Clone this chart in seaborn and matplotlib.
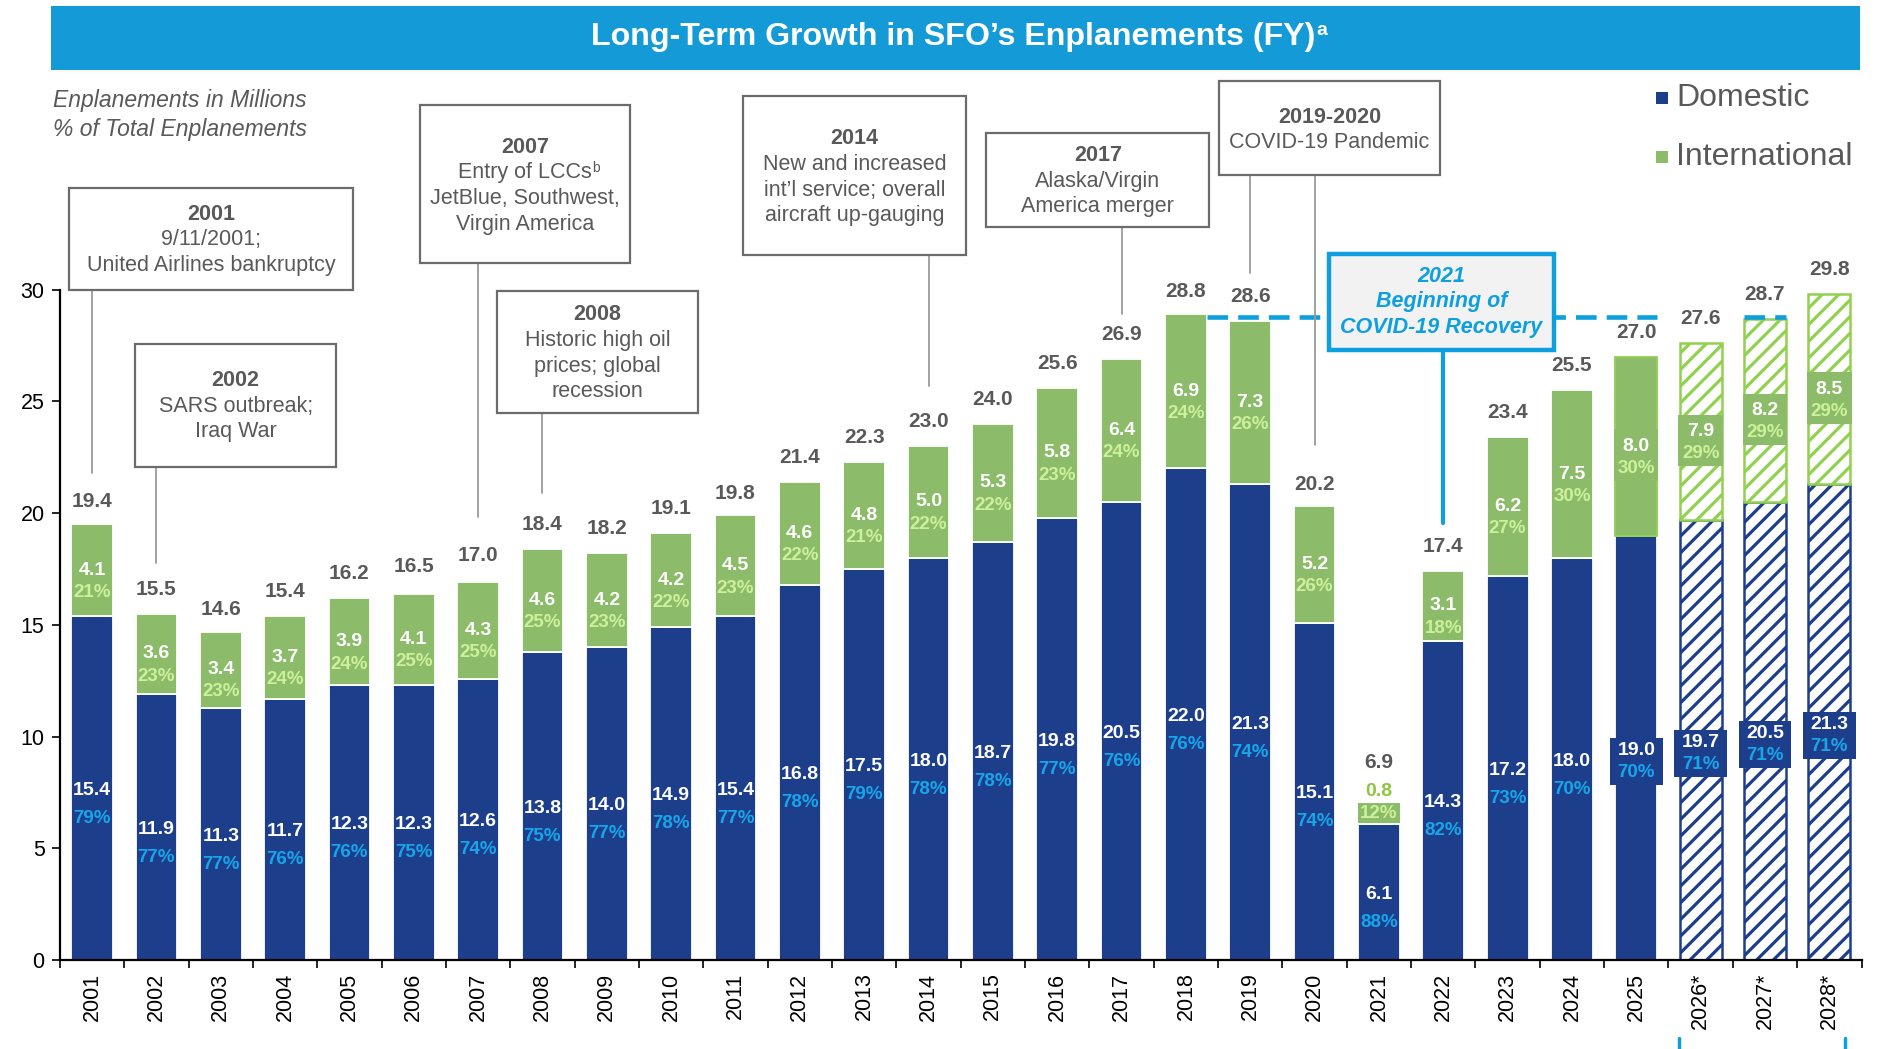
import matplotlib
matplotlib.use("Agg")
import matplotlib.pyplot as plt
import numpy as np
import pandas as pd
import seaborn as sns
from matplotlib.patches import Rectangle
from matplotlib.lines import Line2D
from matplotlib.text import Annotation

# ---------------- data ----------------
years = ["2001", "2002", "2003", "2004", "2005", "2006", "2007", "2008", "2009",
         "2010", "2011", "2012", "2013", "2014", "2015", "2016", "2017", "2018",
         "2019", "2020", "2021", "2022", "2023", "2024", "2025",
         "2026*", "2027*", "2028*"]
domestic = [15.4, 11.9, 11.3, 11.7, 12.3, 12.3, 12.6, 13.8, 14.0, 14.9, 15.4,
            16.8, 17.5, 18.0, 18.7, 19.8, 20.5, 22.0, 21.3, 15.1, 6.1, 14.3,
            17.2, 18.0, 19.0, 19.7, 20.5, 21.3]
international = [4.1, 3.6, 3.4, 3.7, 3.9, 4.1, 4.3, 4.6, 4.2, 4.2, 4.5, 4.6,
                 4.8, 5.0, 5.3, 5.8, 6.4, 6.9, 7.3, 5.2, 0.8, 3.1, 6.2, 7.5,
                 8.0, 7.9, 8.2, 8.5]
totals = [19.4, 15.5, 14.6, 15.4, 16.2, 16.5, 17.0, 18.4, 18.2, 19.1, 19.8,
          21.4, 22.3, 23.0, 24.0, 25.6, 26.9, 28.8, 28.6, 20.2, 6.9, 17.4,
          23.4, 25.5, 27.0, 27.6, 28.7, 29.8]
dom_pct = [79, 77, 77, 76, 76, 75, 74, 75, 77, 78, 77, 78, 79, 78, 78, 77, 76,
           76, 74, 74, 88, 82, 73, 70, 70, 71, 71, 71]
intl_pct = [21, 23, 23, 24, 24, 25, 25, 25, 23, 22, 23, 22, 21, 22, 22, 23, 24,
            24, 26, 26, 12, 18, 27, 30, 30, 29, 29, 29]
projected = [y.endswith("*") for y in years]
series_names = ["Domestic", "International"]

# ---------------- style ----------------
sns.set_theme(style="white")
plt.rcParams["font.family"] = ["Liberation Sans", "DejaVu Sans"]
plt.rcParams["hatch.linewidth"] = 2.3

NAVY = "#1D3E8A"
GREEN = "#8CBB69"
HGREEN = "#92D050"
BLUE = "#0E9FDE"
BANNER = "#149BD7"
DOM_PCT = "#17A6EA"
INT_PCT = "#CDF09B"
GRAY = "#595959"
BOXEDGE = "#6B6B6B"
CONN = "#9A9A9A"

W, H = 1877, 1049
fig = plt.figure(figsize=(W / 100, H / 100), dpi=100)
ax_l, ax_r, ax_b, ax_t = 59.9, 1861.5, 960.1, 289.7
ax = fig.add_axes([ax_l / W, 1 - ax_b / H, (ax_r - ax_l) / W, (ax_b - ax_t) / H])

df = pd.DataFrame({"year": years, "Domestic": domestic,
                   "International": international})
sns.barplot(data=df, x="year", y="Domestic", color=NAVY, saturation=1,
            width=0.65, errorbar=None, edgecolor="white", linewidth=1.3,
            ax=ax, zorder=2)
sns.barplot(data=df, x="year", y="International", color=GREEN, saturation=1,
            width=0.65, errorbar=None, edgecolor="white", linewidth=1.3,
            ax=ax, zorder=2)
dom_bars = ax.containers[0]
int_bars = ax.containers[1]
for i, b in enumerate(int_bars):
    b.set_y(domestic[i])
for i in range(len(years)):
    if projected[i]:
        db, ib = dom_bars[i], int_bars[i]
        db.set_facecolor("white"); db.set_hatch("//"); db.set_edgecolor(NAVY)
        db.set_linewidth(1.8)
        ib.set_facecolor("white"); ib.set_hatch("//"); ib.set_edgecolor(HGREEN)
        ib.set_linewidth(1.8)
int_bars[24].set_edgecolor(HGREEN)

ax.set_xlim(-0.5, len(years) - 0.5)
ax.set_ylim(0, 30)
ax.set_xlabel("")
ax.set_ylabel("")
ax.set_yticks([0, 5, 10, 15, 20, 25, 30])
ax.tick_params(axis="y", labelsize=15.5, length=6, width=1.2, color="black",
               labelcolor="black", pad=5, left=True)
ax.set_xticks(np.arange(len(years)))
ax.set_xticklabels(years, rotation=90)
ax.set_xticks(np.arange(len(years) + 1) - 0.5, minor=True)
ax.tick_params(axis="x", which="major", length=0, labelsize=15.5,
               labelcolor="black", pad=9)
ax.tick_params(axis="x", which="minor", length=6, width=1.2, color="black",
               bottom=True)
for s in ["top", "right"]:
    ax.spines[s].set_visible(False)
for s in ["left", "bottom"]:
    ax.spines[s].set_color("black")
    ax.spines[s].set_linewidth(1.6)
    ax.spines[s].set_zorder(3)

# ---------------- value labels ----------------
VAL_FS, PCT_FS, TOT_FS = 14, 13.5, 15
for i in range(len(years)):
    d, it = domestic[i], international[i]
    boxed = projected[i] or years[i] == "2025"
    # totals
    ty = totals[i] + 1.1 if years[i] != "2021" else totals[i] + 1.95
    ax.text(i, ty, f"{totals[i]:.1f}", ha="center", va="center",
            fontsize=TOT_FS, fontweight="bold", color=GRAY, zorder=6)
    # domestic
    dy = d / 2 - 0.1
    if boxed:
        ax.add_patch(Rectangle((i - 0.41, dy - 1.55), 0.82, 2.1, facecolor=NAVY,
                               edgecolor="none", zorder=5))
        dp = dy - 1.0
    else:
        dp = dy - 1.25
    ax.text(i, dy, f"{d:.1f}", ha="center", va="center", fontsize=VAL_FS,
            fontweight="bold", color="white", zorder=6)
    ax.text(i, dp, f"{dom_pct[i]}%", ha="center", va="center",
            fontsize=PCT_FS, fontweight="bold", color=DOM_PCT, zorder=6)
    # international
    if years[i] == "2021":
        ax.text(i, totals[i] + 0.65, f"{it:.1f}", ha="center", va="center",
                fontsize=VAL_FS, fontweight="bold", color="#8DC63F", zorder=6)
        ax.add_patch(Rectangle((i - 0.325, d + 0.02), 0.65, 0.9,
                               facecolor=GREEN, edgecolor="none", zorder=5))
        ax.text(i, d + 0.45, f"{intl_pct[i]}%", ha="center", va="center",
                fontsize=PCT_FS, fontweight="bold", color=INT_PCT, zorder=6)
        continue
    iy = d + it / 2
    if boxed:
        ax.add_patch(Rectangle((i - 0.345, iy - 1.55), 0.69, 2.3,
                               facecolor=GREEN, edgecolor="none", zorder=5))
    ax.text(i, iy, f"{it:.1f}", ha="center", va="center", fontsize=VAL_FS,
            fontweight="bold", color="white", zorder=6)
    ax.text(i, iy - 1.0, f"{intl_pct[i]}%", ha="center", va="center",
            fontsize=PCT_FS, fontweight="bold", color=INT_PCT, zorder=6)

# dashed reference line at the 2018 peak
for xa, xb in [(17 + 0.325, 24 + 0.325), (26 - 0.325, 26 + 0.325)]:
    ax.plot([xa, xb], [totals[17], totals[17]], color=BLUE, lw=3.3,
            ls=(0, (4.5, 2.2)), zorder=4, clip_on=False,
            dash_capstyle="butt")

# ---------------- annotation boxes ----------------
LS = 1.145


def note(x0, x1, ytop, ybot, title, lines, y_first, conns):
    ax.add_patch(Rectangle((x0, ybot), x1 - x0, ytop - ybot, facecolor="white",
                           edgecolor=BOXEDGE, lw=1.6, clip_on=False, zorder=5))
    cx = (x0 + x1) / 2
    ax.text(cx, y_first, title, ha="center", va="center", fontsize=15.5,
            fontweight="bold", color=GRAY, zorder=6)
    arts = []
    for k, line in enumerate(lines):
        arts.append(ax.text(cx, y_first - (k + 1) * LS, line, ha="center",
                            va="center", fontsize=15.5, color=GRAY, zorder=6))
    for xc, y_a, y_b in conns:
        ax.plot([xc, xc], [y_a, y_b], color=CONN, lw=1.3, clip_on=False,
                zorder=4)
    return arts


note(-0.354, 4.057, 34.55, 30.0, "2001",
     ["9/11/2001;", "United Airlines bankruptcy"], 33.37, [(0, 30.0, 21.8)])
note(0.67, 3.796, 27.59, 22.07, "2002",
     ["SARS outbreak;", "Iraq War"], 25.93, [(1, 22.07, 17.78)])
a07 = note(5.099, 8.355, 38.25, 31.18, "2007",
           ["Entry of LCCs", "JetBlue, Southwest,", "Virgin America"], 36.37,
           [(6, 31.18, 19.82)])
ax.annotate("b", xy=(1, 1), xycoords=a07[0], xytext=(0.5, 1),
            textcoords="offset points", ha="left", va="top", fontsize=10,
            color=GRAY, zorder=6)
note(6.29, 9.416, 29.95, 24.48, "2008",
     ["Historic high oil", "prices; global", "recession"], 28.87,
     [(7, 24.48, 20.89)])
note(10.12, 13.58, 38.67, 31.55, "2014",
     ["New and increased", "int\u2019l service; overall",
      "aircraft up-gauging"], 36.75, [(13, 31.55, 25.71)])
note(13.90, 17.36, 37.02, 32.79, "2017",
     ["Alaska/Virgin", "America merger"], 36.0, [(16, 32.79, 28.93)])
note(17.51, 20.95, 39.32, 35.14, "2019-2020",
     ["COVID-19 Pandemic"], 37.71, [(18, 35.14, 30.74), (19, 35.14, 23.04)])

# COVID recovery call-out
ax.add_patch(Rectangle((19.22, 27.32), 22.72 - 19.22, 31.61 - 27.32,
                       facecolor="#F2F2F2", edgecolor=BLUE, lw=3.2,
                       clip_on=False, zorder=7))
for k, line in enumerate(["2021", "Beginning of", "COVID-19 Recovery"]):
    ax.text((19.22 + 22.72) / 2, 30.59 - k * 1.14, line, ha="center",
            va="center", fontsize=15.5, fontweight="bold", fontstyle="italic",
            color=BLUE, zorder=8)
ax.plot([21, 21], [27.32, 19.55], color=BLUE, lw=3.0, clip_on=False, zorder=7)

# ---------------- title banner ----------------
fig.patches.append(Rectangle((51 / W, 1 - 70 / H), (1860 - 51) / W, 64 / H,
                             transform=fig.transFigure, facecolor=BANNER,
                             edgecolor="none", zorder=0))
ttl = fig.text(953 / W, 1 - 37 / H,
               "Long-Term Growth in SFO\u2019s Enplanements (FY)",
               ha="center", va="center", fontsize=23.1, fontweight="bold",
               color="white", zorder=5)
sup = Annotation("a", xy=(1, 1), xycoords=ttl, xytext=(1, 0),
                 textcoords="offset points", ha="left", va="top", fontsize=14,
                 fontweight="bold", color="white", annotation_clip=False)
sup.set_zorder(6)
fig.add_artist(sup)

# subtitle
fig.text(53 / W, 1 - 100.5 / H, "Enplanements in Millions", ha="left",
         va="center", fontsize=16.5, fontstyle="italic", color=GRAY)
fig.text(53 / W, 1 - 129.5 / H, "% of Total Enplanements", ha="left",
         va="center", fontsize=16.5, fontstyle="italic", color=GRAY)

# legend
for name, col, yc in [(series_names[0], NAVY, 98), (series_names[1], GREEN, 157)]:
    fig.patches.append(Rectangle((1656 / W, 1 - (yc + 6) / H), 12 / W, 12 / H,
                                 transform=fig.transFigure, facecolor=col,
                                 edgecolor="none"))
    fig.text(1676 / W, 1 - yc / H, name, ha="left", va="center",
             fontsize=23, color=GRAY)

# small bracket marks under projections
for xp in [1679, 1845]:
    fig.lines.append(Line2D([xp / W, xp / W], [0, 11 / H],
                            transform=fig.transFigure, color=BLUE, lw=2.5))

fig.savefig("out.png", dpi=100, facecolor="white")
